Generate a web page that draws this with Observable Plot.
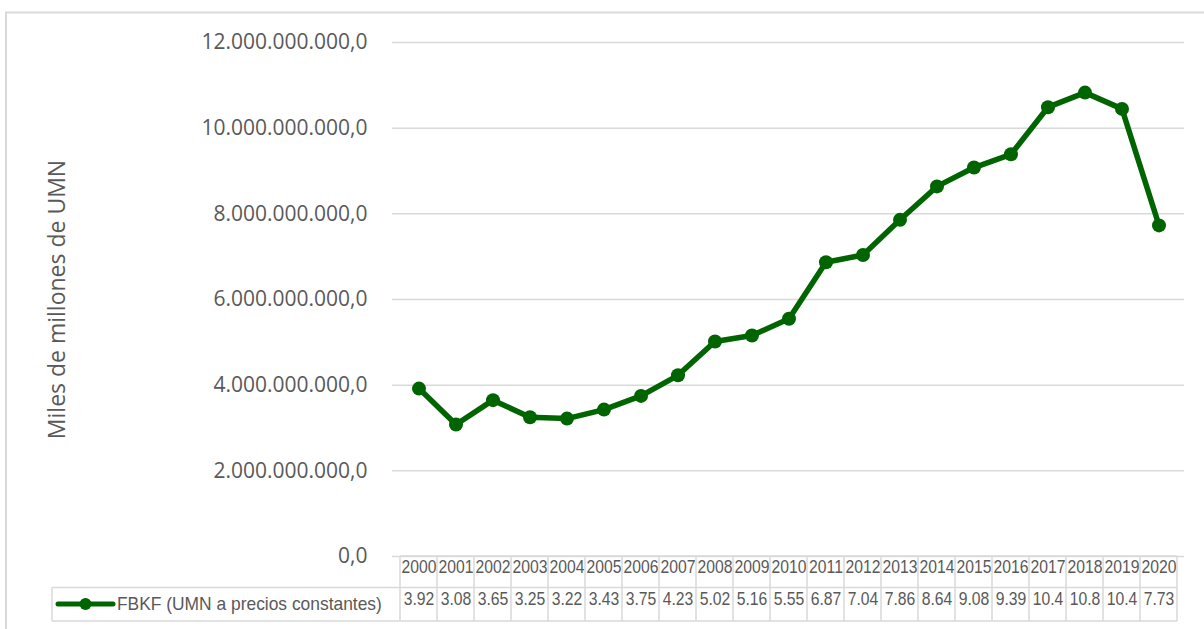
<!DOCTYPE html>
<html><head><meta charset="utf-8">
<script src="https://cdn.jsdelivr.net/npm/d3@7"></script>
<script src="https://cdn.jsdelivr.net/npm/@observablehq/plot@0.6"></script>
<style>
html,body{margin:0;padding:0;background:#fff;}
#chart{position:relative;width:1204px;height:629px;overflow:hidden;}
#chart svg{display:block;}
</style></head><body><div id="chart"></div>
<script>
// ---- data ----
const years = [2000,2001,2002,2003,2004,2005,2006,2007,2008,2009,2010,2011,2012,2013,2014,2015,2016,2017,2018,2019,2020];
// FBKF, billions (×1e9) of UMN at constant prices
const values = [3.92,3.08,3.65,3.25,3.22,3.43,3.75,4.23,5.02,5.16,5.55,6.87,7.04,7.86,8.64,9.08,9.39,10.49,10.83,10.45,7.73];
const tableLabels = ["3.92","3.08","3.65","3.25","3.22","3.43","3.75","4.23","5.02","5.16","5.55","6.87","7.04","7.86","8.64","9.08","9.39","10.4","10.8","10.4","7.73"];
const yTicks = [0,2e9,4e9,6e9,8e9,10e9,12e9];
const seriesName = "FBKF (UMN a precios constantes)";
const yLabel = "Miles de millones de UMN";

const green = "#006400";
const gray = "#d9d9d9";
const textGray = "#595959";
const tableFont = "'Liberation Sans', Arial, sans-serif";
const tableFontSize = 18.5;
const condense = 0.85;       // narrow look of the table font
const legendCondense = 0.94;

const esLocale = d3.formatLocale({decimal: ",", thousands: ".", grouping: [3], currency: ["", ""]});
const fmt = esLocale.format(",.1f");

const data = years.map((y, i) => ({year: String(y), value: values[i] * 1e9, label: tableLabels[i]}));

const chart = Plot.plot({
  width: 1204, height: 629,
  marginLeft: 392, marginRight: 20, marginTop: 42, marginBottom: 73,
  style: {fontFamily: "'Open Sans', sans-serif", fontSize: "21px", color: textGray, background: "transparent", overflow: "visible"},
  x: {type: "band", domain: years.map(String), padding: 0, axis: null},
  y: {domain: [0, 12e9], label: null},
  marks: [
    Plot.gridY(yTicks, {stroke: gray, strokeOpacity: 1, strokeWidth: 1.5}),
    Plot.axisY(yTicks, {tickSize: 0, tickPadding: 25, tickFormat: fmt, fontSize: 21, fill: textGray, label: null}),
    Plot.text([yLabel], {frameAnchor: "left", textAnchor: "middle", rotate: -90, dx: -335, fontSize: 23, fill: textGray}),
    Plot.line(data, {x: "year", y: "value", stroke: green, strokeWidth: 5.5, strokeLinejoin: "round"}),
    Plot.dot(data, {x: "year", y: "value", r: 7, fill: green, stroke: "none"}),
    Plot.text(data, {x: "year", text: "year", frameAnchor: "bottom", dy: 16, fontSize: tableFontSize, fill: textGray, fontFamily: tableFont, className: "tbl"}),
    Plot.text(data, {x: "year", text: "label", frameAnchor: "bottom", dy: 48, fontSize: tableFontSize, fill: textGray, fontFamily: tableFont, className: "tbl"})
  ]
});

// ---- table grid, legend and frame drawn with the chart's own x scale ----
const svg = d3.select(chart);
const xs = chart.scale("x");
const bw = xs.bandwidth;
const frameBottom = 629 - 73;
const rowH = 31.5;
const xStart = xs.apply(String(years[0]));
const xEnd = xs.apply(String(years[years.length - 1])) + bw;
const legendLeft = 52;
const g = svg.append("g").attr("stroke", gray).attr("stroke-width", 1.5).attr("fill", "none");
// outer frame (chart area border)
g.append("rect").attr("x", 6).attr("y", 12.5).attr("width", 1400).attr("height", 800).attr("stroke-width", 2);
// horizontal rules
g.append("line").attr("x1", xStart).attr("x2", xEnd).attr("y1", frameBottom).attr("y2", frameBottom);
g.append("line").attr("x1", legendLeft).attr("x2", xEnd).attr("y1", frameBottom + rowH).attr("y2", frameBottom + rowH);
g.append("line").attr("x1", legendLeft).attr("x2", xEnd).attr("y1", frameBottom + 2 * rowH + 2).attr("y2", frameBottom + 2 * rowH + 2);
// vertical rules
years.forEach((y) => {
  const x0 = xs.apply(String(y));
  g.append("line").attr("x1", x0).attr("x2", x0).attr("y1", frameBottom).attr("y2", frameBottom + 2 * rowH + 2);
});
g.append("line").attr("x1", xEnd).attr("x2", xEnd).attr("y1", frameBottom).attr("y2", frameBottom + 2 * rowH + 2);
g.append("line").attr("x1", legendLeft).attr("x2", legendLeft).attr("y1", frameBottom + rowH).attr("y2", frameBottom + 2 * rowH + 2);
// legend key
const ly = frameBottom + rowH + 16.5;
const lg = svg.append("g");
lg.append("line").attr("x1", 58).attr("x2", 113).attr("y1", ly).attr("y2", ly).attr("stroke", green).attr("stroke-width", 5).attr("stroke-linecap", "round");
lg.append("circle").attr("cx", 85.5).attr("cy", ly).attr("r", 6).attr("fill", green);
lg.append("text").attr("class", "tblLegend").attr("x", 117).attr("y", ly).attr("dy", "0.35em").attr("fill", textGray)
  .attr("text-anchor", "start")
  .attr("font-family", tableFont).attr("font-size", tableFontSize).text(seriesName);

document.getElementById("chart").appendChild(chart);

// condense the table texts (narrow font look)
function condenseText(sel, k) {
  sel.each(function () {
    const w = this.getComputedTextLength();
    if (w > 0) {
      this.setAttribute("textLength", (w * k).toFixed(2));
      this.setAttribute("lengthAdjust", "spacingAndGlyphs");
    }
  });
}
condenseText(svg.selectAll(".tbl text"), condense);
condenseText(svg.selectAll("text.tblLegend"), legendCondense);
</script></body></html>
